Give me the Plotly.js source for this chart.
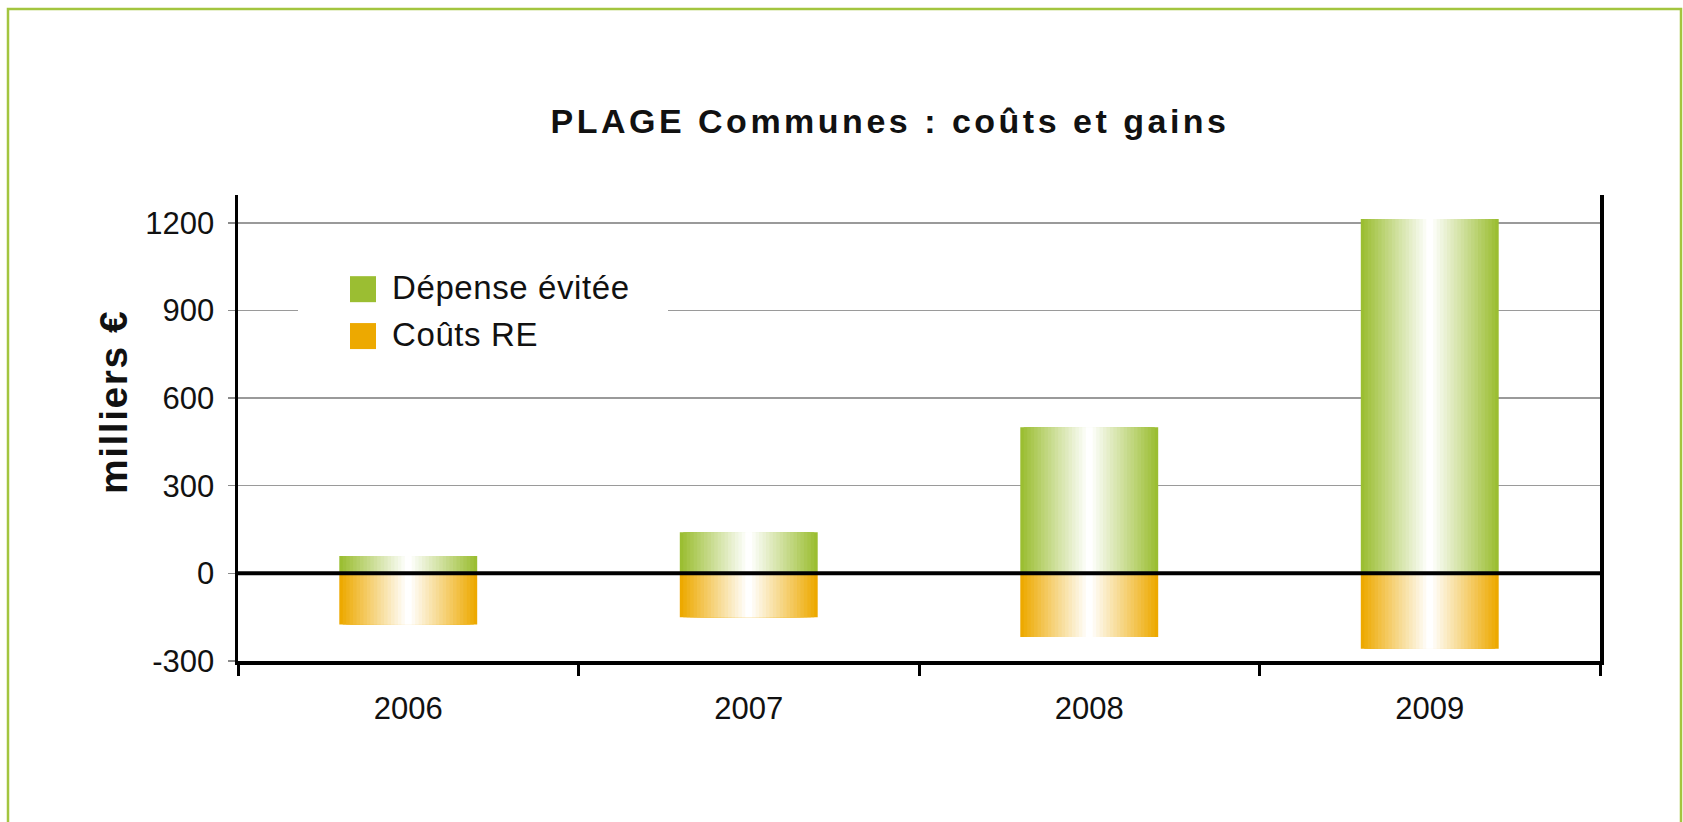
<!DOCTYPE html>
<html>
<head>
<meta charset="utf-8">
<script src="https://cdn.plot.ly/plotly-3.0.1.min.js"></script>
<style>
  html, body { margin: 0; padding: 0; background: #ffffff; }
  #chart { width: 1683px; height: 822px; }
  .gtitle { letter-spacing: 3.5px; }
  .annotation-text { letter-spacing: 1.5px; }
  .legendtext { letter-spacing: 0.6px; }
</style>
</head>
<body>
<div id="chart"></div>
<script>
// ---- data ----
const years = ['2006', '2007', '2008', '2009'];
const depenseEvitee = [59, 141, 500, 1213];
const coutsRE = [-175, -150, -218, -258];
const seriesNames = ['Dépense évitée', 'Coûts RE'];
const seriesColors = ['#9BBE32', '#EDA900'];
const yTickVals = [-300, 0, 300, 600, 900, 1200];
const yTickText = ['-300', '0', '300', '600', '900', '1200'];
const chartTitle = 'PLAGE Communes : coûts et gains';
const yTitle = 'milliers €';

// ---- styling helpers ----
const BAR_W = 0.405;
const STEPS = 20;
const SANS = '"Liberation Sans", Arial, sans-serif';

function mix(hex, t) {
  const r = parseInt(hex.slice(1, 3), 16), g = parseInt(hex.slice(3, 5), 16), b = parseInt(hex.slice(5, 7), 16);
  const f = v => Math.round(v + (255 - v) * t);
  return 'rgb(' + f(r) + ',' + f(g) + ',' + f(b) + ')';
}

const seriesValues = [depenseEvitee, coutsRE];
const traces = [];
seriesValues.forEach((vals, s) => {
  for (let i = 0; i < STEPS; i++) {
    const t = i / (STEPS - 1);
    traces.push({
      type: 'bar',
      x: years,
      y: vals,
      name: seriesNames[s],
      legendgroup: 'g' + s,
      showlegend: i === 0,
      width: BAR_W * (1 - i / STEPS),
      marker: { color: i === 0 ? seriesColors[s] : mix(seriesColors[s], t), line: { width: 0 } },
      hoverinfo: 'skip'
    });
  }
});

const L = 238, R = 1600, T = 195, B = 661, W = 1683, H = 822;
const pw = R - L, ph = B - T;
const px = x => (x - L) / pw;
const py = y => (B - y) / ph;

const layout = {
  width: W, height: H,
  margin: { l: L, r: W - R, t: T, b: H - B },
  paper_bgcolor: '#ffffff',
  plot_bgcolor: '#ffffff',
  barmode: 'overlay',
  showlegend: true,
  title: {
    text: '<b>' + chartTitle + '</b>',
    font: { family: SANS, size: 34, color: '#111111' },
    xref: 'paper', x: px(890), xanchor: 'center',
    yref: 'container', y: 1 - 121 / H, yanchor: 'middle'
  },
  legend: {
    x: px(298), xanchor: 'left',
    y: py(258), yanchor: 'top',
    bgcolor: '#ffffff',
    borderwidth: 0,
    itemwidth: 84,
    font: { family: SANS, size: 33, color: '#111111' },
    tracegroupgap: 1,
    itemclick: false, itemdoubleclick: false
  },
  xaxis: {
    type: 'category',
    categoryorder: 'array',
    categoryarray: years,
    tickson: 'boundaries',
    ticks: 'outside', ticklen: 11, tickwidth: 3, tickcolor: '#000000',
    showline: true, linewidth: 3.5, linecolor: '#000000',
    showgrid: false, zeroline: false,
    tickfont: { family: SANS, size: 31, color: '#111111' },
    ticklabelstandoff: 17,
    fixedrange: true
  },
  yaxis: {
    range: [-300, 1295],
    tickvals: yTickVals, ticktext: yTickText,
    ticks: 'outside', ticklen: 7, tickwidth: 1.5, tickcolor: '#8a8a8a',
    showline: true, mirror: true, linewidth: 3.5, linecolor: '#000000',
    showgrid: true, gridcolor: '#9a9a9a', gridwidth: 1.5,
    zeroline: false,
    tickfont: { family: SANS, size: 31, color: '#111111' },
    ticklabelstandoff: 7,
    fixedrange: true
  },
  shapes: [
    { type: 'rect', xref: 'paper', yref: 'paper',
      x0: px(298), x1: px(668), y0: py(360), y1: py(252),
      line: { width: 0 }, fillcolor: '#ffffff', layer: 'above' },
    { type: 'line', xref: 'paper', yref: 'y', x0: 0, x1: 1, y0: 0, y1: 0,
      line: { color: '#000000', width: 4 }, layer: 'above' },
    { type: 'rect', xref: 'paper', yref: 'paper',
      x0: px(8), x1: px(1681), y0: py(9), y1: py(900),
      line: { color: '#A3C53F', width: 2.5 }, fillcolor: 'rgba(0,0,0,0)', layer: 'above' }
  ],
  annotations: [
    { text: '<b>' + yTitle + '</b>', xref: 'paper', yref: 'paper',
      x: px(113), y: py(402), xanchor: 'center', yanchor: 'middle',
      textangle: -90, showarrow: false,
      font: { family: SANS, size: 39, color: '#111111' } }
  ]
};

Plotly.newPlot('chart', traces, layout, { staticPlot: true, displayModeBar: false }).then(() => {
  document.querySelectorAll('.legend .traces').forEach(tr => {
    const p = tr.querySelector('.legendpoints path');
    const txt = tr.querySelector('text.legendtext');
    if (!p || !txt) return;
    p.setAttribute('d', 'M13,13H-13V-13H13Z');
    const pr = p.getBoundingClientRect();
    const tl = txt.getBoundingClientRect();
    const desiredCenter = tl.left - 16 - 13;
    const dx = desiredCenter - (pr.left + pr.width / 2);
    const dy = (tl.top + tl.height * 0.55) - (pr.top + pr.height / 2);
    p.setAttribute('d', 'M' + (13 + dx) + ',' + (13 + dy) + 'H' + (-13 + dx) + 'V' + (-13 + dy) + 'H' + (13 + dx) + 'Z');
  });
});
</script>
</body>
</html>
